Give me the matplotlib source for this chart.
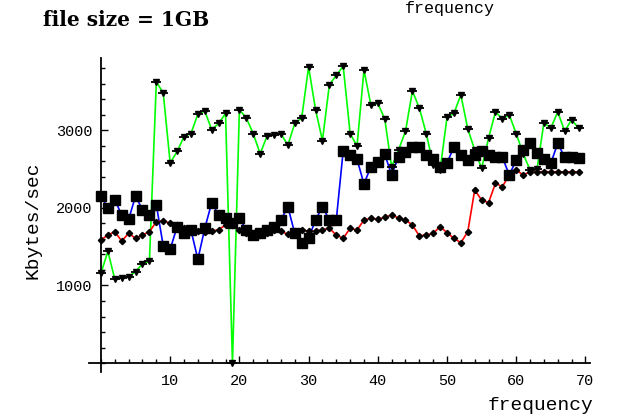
import matplotlib
matplotlib.use("Agg")
import matplotlib.pyplot as plt
from matplotlib.ticker import MultipleLocator, FixedLocator
import numpy as np

# ---- data ----
freq = list(range(70))

green_vals = [1160, 1440, 1080, 1100, 1110, 1180, 1280, 1310, 3630, 3480,
              2580, 2730, 2920, 2960, 3210, 3250, 3010, 3090, 3220, 0,
              3270, 3160, 2960, 2700, 2930, 2940, 2960, 2810, 3090, 3160,
              3820, 3270, 2870, 3590, 3710, 3830, 2960, 2800, 3780, 3330,
              3350, 3150, 2530, 2750, 2990, 3510, 3290, 2960, 2560, 2490,
              3170, 3220, 3460, 3020, 2750, 2510, 2900, 3240, 3150, 3200,
              2960, 2700, 2490, 2500, 3100, 3030, 3240, 2990, 3140, 3030]

blue_vals = [2155, 1996, 2103, 1910, 1854, 2155, 1974, 1910, 2039, 1510,
             1467, 1759, 1673, 1716, 1338, 1738, 2068, 1910, 1867, 1802,
             1867, 1716, 1652, 1673, 1716, 1759, 1845, 2017, 1673, 1545,
             1609, 1845, 2017, 1845, 1845, 2740, 2684, 2628, 2310, 2533,
             2597, 2693, 2426, 2662, 2726, 2783, 2790, 2684, 2628, 2525,
             2585, 2783, 2684, 2619, 2684, 2740, 2684, 2662, 2654, 2426,
             2619, 2748, 2843, 2706, 2628, 2577, 2835, 2654, 2662, 2641]

red_vals = [1587, 1652, 1694, 1574, 1673, 1609, 1652, 1694, 1823, 1836,
            1802, 1781, 1740, 1720, 1700, 1690, 1700, 1720, 1780, 1780,
            1720, 1680, 1650, 1650, 1680, 1716, 1700, 1660, 1700, 1720,
            1700, 1700, 1720, 1738, 1650, 1609, 1738, 1716, 1845, 1867,
            1854, 1880, 1910, 1870, 1845, 1781, 1640, 1652, 1673, 1759,
            1681, 1609, 1552, 1694, 2232, 2103, 2068, 2319, 2275, 2426,
            2490, 2426, 2468, 2465, 2470, 2465, 2468, 2465, 2468, 2465]

x_ticks = [10, 20, 30, 40, 50, 60, 70]
y_ticks = [1000, 2000, 3000]

title_text = "file size = 1GB"
x_label = "frequency"
y_label = "Kbytes/sec"

# ---- figure ----
W, H = 618, 419
fig = plt.figure(figsize=(W / 100, H / 100), dpi=100)
ax = fig.add_axes([89 / W, (H - 372) / H, 501 / W, 314 / H])
ax.set_xlim(-1.73, 70.66)
ax.set_ylim(-116, 3935)

ax.plot(freq, green_vals, color="#00ff00", lw=1.2, zorder=2)
ax.plot(freq, blue_vals, color="#0000ff", lw=1.2, zorder=2)
ax.plot(freq, red_vals, color="#ff0000", lw=1.2, zorder=2)

ax.plot(freq, blue_vals, ls="none", marker="s", ms=7, color="black", zorder=4)
ax.plot(freq, red_vals, ls="none", marker="D", ms=3.2, color="black", zorder=4)
ax.plot(freq, green_vals, ls="none", marker="v", ms=4, color="black", zorder=4)
ax.plot(freq, green_vals, ls="none", marker="_", ms=6.5, mew=1.3, color="black", zorder=4)

for s in ("top", "right"):
    ax.spines[s].set_visible(False)
ax.spines["left"].set_position(("data", 0))
ax.spines["bottom"].set_position(("data", 0))
ax.spines["left"].set_linewidth(1.3)
ax.spines["bottom"].set_linewidth(1.3)

ax.xaxis.set_major_locator(FixedLocator(x_ticks))
ax.xaxis.set_minor_locator(MultipleLocator(2))
ax.yaxis.set_major_locator(FixedLocator(y_ticks))
ax.yaxis.set_minor_locator(MultipleLocator(200))
ax.tick_params(which="major", direction="in", length=5, width=1.0)
ax.tick_params(which="minor", direction="in", length=3, width=1.0)
ax.tick_params(axis="x", which="major", pad=8)
ax.tick_params(axis="y", which="major", pad=6)

mono = "Liberation Mono"
for lab in ax.get_xticklabels() + ax.get_yticklabels():
    lab.set_fontfamily(mono)
    lab.set_fontsize(11)

fig.text(43 / W, 1 - 26 / H, title_text, fontsize=14.5, fontweight="bold",
         family="DejaVu Serif", ha="left", va="baseline")
fig.text(450 / W, 1 - 1 / H, x_label, fontsize=12, family=mono,
         ha="center", va="top")
fig.text(593 / W, 1 - 410 / H, x_label, fontsize=14, family=mono,
         ha="right", va="baseline")
fig.text(33 / W, 1 - 220 / H, y_label, fontsize=14, family=mono,
         ha="center", va="center", rotation=90)

fig.savefig("out.png", dpi=100)
